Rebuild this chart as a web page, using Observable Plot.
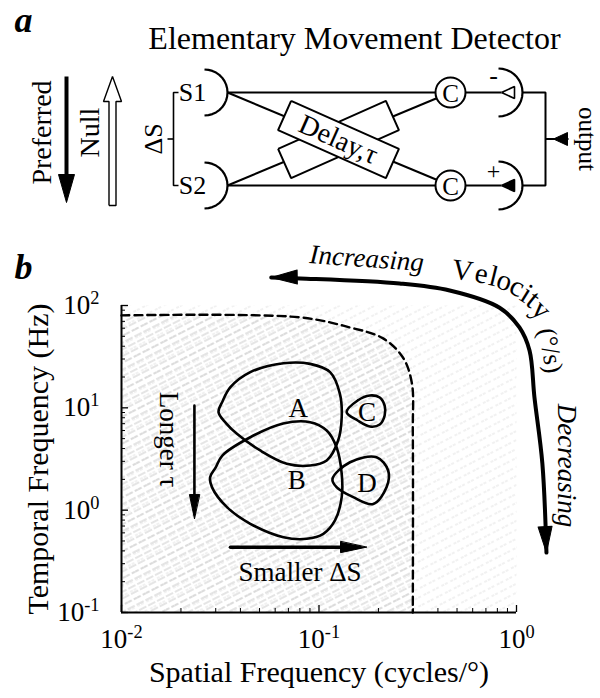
<!DOCTYPE html>
<html><head><meta charset="utf-8">
<script src="https://cdn.jsdelivr.net/npm/d3@7"></script>
<script src="https://cdn.jsdelivr.net/npm/@observablehq/plot@0.6"></script>
<style>
body{margin:0;background:#fff;}
#fig{width:600px;height:698px;overflow:hidden;}
#fig svg{display:block;overflow:visible;}
</style></head><body><div id="fig"></div>
<script>
// ================= DATA =================
// ---- panel a: schematic (schematic units) ----
const panelLabels = ["a", "b"];
const titleA = "Elementary Movement Detector";
const sensorLabels = ["S1", "S2"];
const rowsY = [92, 185];
const sensorX = 204, sensorR = 23;
const corrLabels = ["C", "C"];
const corrX = 450, corrR = 15;
const corrSigns = ["-", "+"];
const synX = 498, synR = 24;
const outputX = 545;
const delayLabel = "Delay,\u03C4";
const delayCenter = [338, 139];
const delaySize = [118, 32];
const delayAngles = [-24, 24];          // back box, front box
const dirLabels = ["Preferred", "Null"];
const dirX = [66, 112];
const dirY = [76, 202];
const outputLabel = "output";
const spacingLabel = "\u0394S";

// ---- panel b: spatio-temporal frequency plane ----
const xTicks = [0.01, 0.1, 1];
const yTicks = [0.1, 1, 10, 100];
const xLabel = "Spatial Frequency (cycles/\u00B0)";
const yLabel = "Temporal Frequency (Hz)";
// dashed limit of the detectable region [cycles/deg, Hz]
const limitCurve = [[0.01,80],[0.08,76.6],[0.1436,61],[0.21,48],[0.265,31.4],[0.295,17.6],[0.2985,5.8],[0.2985,0.1]];
// response loops
const loopA = [[0.0310,9.06],[0.0325,11.6],[0.0356,15.9],[0.0449,22.3],[0.0661,27.3],[0.0902,26.9],[0.1138,22.3],[0.1276,13.7],[0.1303,8.10],[0.125,4.80],[0.1094,3.06],[0.0902,2.73],[0.0687,2.84],[0.0504,3.83],[0.0384,5.57],[0.0338,7.1]];
const loopB = [[0.0281,2.10],[0.0300,2.62],[0.0324,3.42],[0.0449,5.16],[0.0658,7.03],[0.0902,7.24],[0.1094,6.00],[0.1227,4.12],[0.1303,2.27],[0.1303,1.34],[0.1205,0.793],[0.1052,0.587],[0.0867,0.525],[0.0661,0.544],[0.0449,0.736],[0.0342,1.07],[0.0287,1.68]];
const loopC = [[0.138,9.06],[0.157,11.8],[0.181,13.2],[0.203,12.6],[0.215,10.5],[0.215,8.41],[0.203,6.87],[0.181,6.57],[0.157,7.52]];
const loopD = [[0.117,2.02],[0.1436,2.94],[0.1954,3.29],[0.224,2.44],[0.220,1.68],[0.188,1.15],[0.149,1.34],[0.1227,1.68]];
const loopLabels = ["A", "B", "C", "D"];
const loopLabelX = [0.0785, 0.0772, 0.175, 0.175];
const loopLabelY = [9.79, 1.95, 9.06, 1.81];
// velocity arrow
const velocityPath = [[0.0573,188],[0.0802,184],[0.256,164],[0.459,140],[0.821,95],[1.035,61.0],[1.164,36.3],[1.233,12.6],[1.352,2.86],[1.418,0.385]];
const velocityWord = ["V","e","l","o","c","i","t","y"];
const velocityWordX = [0.533,0.665,0.766,0.869,1.01,1.124,1.219,1.337];
const velocityWordY = [220,205,192,175,153,131,115,91.4];
const velocityWordRot = [8,11,14,18,25,32,38,45];
const velAnnot = [{t:"Increasing", x:0.1746, y:288, r:4}, {t:"Decreasing", x:1.79, y:2.73, r:90}];
const unitAnnot = {t:"(\u00B0/s)", x:1.486, y:36.3, r:80};
// tau / spacing arrows
const longerArrow = [[0.0234,10.5],[0.0234,0.95]];
const longerTip = [0.0234, 0.828];
const longerText = {t:"Longer \u03C4", x:0.0173, y:4.91};
const smallerArrow = [[0.0356,0.435],[0.16,0.435]];
const smallerTip = [0.174, 0.435];
const smallerText = {t:"Smaller \u0394S", x:0.0802, y:0.248};
// axis titles anchored at the geometric middle of each log axis
const yTitle = {t: yLabel, x: 0.01, y: 3.1623};
const xTitle = {t: xLabel, x: 0.1, y: 0.1};

// ================= HELPERS =================
const SERIF = "'Liberation Serif','Times New Roman',serif";
const rad = Math.PI / 180;
const cup = (cx, cy, r) => d3.range(-90, 91, 10).map(a => [cx + r * Math.cos(a * rad), cy + r * Math.sin(a * rad)]);
function rotRect([cx, cy], [len, th], ang) {
  const a = ang * rad, ux = Math.cos(a), uy = Math.sin(a), vx = -uy, vy = ux, h = len / 2, t = th / 2;
  const p = [[-h,-t],[h,-t],[h,t],[-h,t],[-h,-t]];
  return p.map(([s, q]) => [cx + s * ux + q * vx, cy + s * uy + q * vy]);
}
const XY = {x: d => d[0], y: d => d[1]};

// ================= PANEL A =================
const [y0, y1] = rowsY, ym = (y0 + y1) / 2;
const sEdge = sensorX + sensorR;
const shapes = [];
rowsY.forEach(y => shapes.push({pts: cup(sensorX, y, sensorR), sw: 2.2}));
rowsY.forEach(y => shapes.push({pts: cup(synX, y, synR), sw: 2.2}));
rowsY.forEach(y => shapes.push({pts: [[sEdge, y], [corrX - corrR, y]], sw: 2}));
function toward(cx, cy, px, py) { const dx = px - cx, dy = py - cy, L = Math.hypot(dx, dy); return [cx + corrR * dx / L, cy + corrR * dy / L]; }
shapes.push({pts: [[sEdge, y0], toward(corrX, y1, sEdge, y0)], sw: 2});
shapes.push({pts: [[sEdge, y1], toward(corrX, y0, sEdge, y1)], sw: 2});
rowsY.forEach(y => shapes.push({pts: [[corrX + corrR, y], [synX + 3, y]], sw: 2}));
// synapse arrowheads (open upper, filled lower)
rowsY.forEach((y, i) => shapes.push({pts: [[synX + 3, y], [synX + 16, y - 6], [synX + 16, y + 6], [synX + 3, y]], sw: 1.6, fill: i ? "black" : "white"}));
// output bracket
shapes.push({pts: [[synX + synR, y0], [outputX, y0], [outputX, y1], [synX + synR, y1]], sw: 2});
shapes.push({pts: [[outputX, ym], [outputX + 23, ym]], sw: 2});
shapes.push({pts: [[outputX + 8, ym], [outputX + 22, ym - 6.5], [outputX + 22, ym + 6.5], [outputX + 8, ym]], sw: 1, fill: "black"});
// delta-S bracket
shapes.push({pts: [[sensorX - 26, y0], [sensorX - 31, y0], [sensorX - 31, y1], [sensorX - 26, y1]], sw: 1.6});
shapes.push({pts: [[sensorX - 31, ym], [sensorX - 37, ym]], sw: 1.6});
// preferred (filled) arrow
shapes.push({pts: [[dirX[0], dirY[0]], [dirX[0], dirY[1] - 22]], sw: 4});
shapes.push({pts: [[dirX[0] - 8, dirY[1] - 28], [dirX[0] + 8, dirY[1] - 28], [dirX[0], dirY[1]], [dirX[0] - 8, dirY[1] - 28]], sw: 1, fill: "black"});
// null (open) arrow
{
  const x = dirX[1], top = dirY[0], bot = dirY[1] + 3;
  shapes.push({pts: [[x - 3.5, bot], [x + 3.5, bot], [x + 3.5, top + 25], [x + 9, top + 25], [x, top], [x - 9, top + 25], [x - 3.5, top + 25], [x - 3.5, bot]], sw: 1.4, fill: "white"});
}
// delay boxes
delayAngles.forEach(a => shapes.push({pts: rotRect(delayCenter, delaySize, a), sw: 2, fill: "white"}));

const textsA = [
  {t: panelLabels[0], x: 23, y: 20, size: 36, style: "italic", weight: "bold"},
  {t: titleA, x: 354, y: 38, size: 32},
  {t: dirLabels[0], x: 42, y: 132, size: 28, r: -90},
  {t: dirLabels[1], x: 90, y: 132, size: 28, r: -90},
  {t: spacingLabel, x: 153, y: ym, size: 26, r: -90},
  {t: sensorLabels[0], x: 192, y: y0, size: 26},
  {t: sensorLabels[1], x: 192, y: y1, size: 26},
  {t: corrLabels[0], x: corrX, y: y0 + 1, size: 25},
  {t: corrLabels[1], x: corrX, y: y1 + 1, size: 25},
  {t: corrSigns[0], x: synX - 5, y: y0 - 17, size: 26},
  {t: corrSigns[1], x: synX - 5, y: y1 - 14, size: 24},
  {t: delayLabel, x: delayCenter[0], y: delayCenter[1], size: 28, r: delayAngles[1]},
  {t: outputLabel, x: 586, y: ym, size: 25, r: 90}
];

const panelA = Plot.plot({
  width: 600, height: 240, margin: 0,
  x: {domain: [0, 600], range: [0, 600], axis: null},
  y: {domain: [0, 240], range: [0, 240], axis: null},
  style: {fontFamily: SERIF, background: "white", color: "black", overflow: "visible"},
  marks: [
    ...shapes.map(s => Plot.line(s.pts, {...XY, stroke: "black", strokeWidth: s.sw, fill: s.fill ?? "none", strokeLinejoin: "miter", strokeLinecap: "butt"})),
    Plot.dot([[corrX, y0], [corrX, y1]], {...XY, r: corrR, fill: "white", stroke: "black", strokeWidth: 2}),
    ...textsA.map(d => Plot.text([d], {x: "x", y: "y", text: "t", fontSize: d.size, rotate: d.r ?? 0, fontStyle: d.style ?? "normal", fontWeight: d.weight ?? "normal", textAnchor: "middle", lineAnchor: "middle", fill: "black"}))
  ]
});

// ================= PANEL B =================
const xMinor = d3.range(-2, 0).flatMap(e => d3.range(2, 10).map(m => +(m * 10 ** e).toPrecision(3)));
const yMinor = d3.range(-1, 2).flatMap(e => d3.range(2, 10).map(m => +(m * 10 ** e).toPrecision(3)));
const expFmt = d => "10^" + Math.round(Math.log10(d));
const head = (w) => ({draw(ctx, l) { ctx.moveTo(0, -l); ctx.lineTo(w, 0); ctx.lineTo(-w, 0); ctx.closePath(); }});
const loopLine = (data) => Plot.line(data, {...XY, curve: "catmull-rom-closed", stroke: "black", strokeWidth: 2.6});
const T = {textAnchor: "middle", lineAnchor: "middle", fill: "black"};

const panelB = Plot.plot({
  width: 600, height: 458,
  marginLeft: 121, marginRight: 84, marginTop: 65, marginBottom: 86,
  x: {type: "log", domain: [0.01, 1], axis: null},
  y: {type: "log", domain: [0.1, 100], axis: null},
  style: {fontFamily: SERIF, background: "white", color: "black", overflow: "visible"},
  marks: [
    Plot.frame({fill: "url(#hatchLight)", stroke: "none"}),
    Plot.areaY(limitCurve, {x: d => d[0], y1: 0.1, y2: d => d[1], curve: "catmull-rom", fill: "url(#hatchDense)"}),
    Plot.line(limitCurve, {...XY, curve: "catmull-rom", stroke: "black", strokeWidth: 2.4, strokeDasharray: "8 5"}),
    loopLine(loopA), loopLine(loopB), loopLine(loopC), loopLine(loopD),
    Plot.text(loopLabels, {x: (d, i) => loopLabelX[i], y: (d, i) => loopLabelY[i], text: d => d, fontSize: 27, ...T}),
    // tau arrow
    Plot.line(longerArrow, {...XY, strokeWidth: 2.6}),
    Plot.vector([longerTip], {...XY, anchor: "end", length: 24, rotate: 180, shape: head(5), fill: "black", stroke: "black", strokeWidth: 1}),
    Plot.text([longerText], {x: "x", y: "y", text: "t", rotate: 90, fontSize: 27, ...T}),
    // delta S arrow
    Plot.line(smallerArrow, {...XY, strokeWidth: 3.5}),
    Plot.vector([smallerTip], {...XY, anchor: "end", length: 26, rotate: 90, shape: head(5.5), fill: "black", stroke: "black", strokeWidth: 1}),
    Plot.text([smallerText], {x: "x", y: "y", text: "t", fontSize: 27, ...T}),
    // velocity arrow
    Plot.line(velocityPath, {...XY, curve: "catmull-rom", strokeWidth: 4}),
    Plot.vector([velocityPath[0]], {...XY, anchor: "end", length: 26, rotate: -91, shape: head(7), fill: "black", stroke: "black", strokeWidth: 1}),
    Plot.vector([velocityPath[velocityPath.length - 1]], {...XY, anchor: "end", length: 26, rotate: 177, shape: head(7), fill: "black", stroke: "black", strokeWidth: 1}),
    Plot.text(velocityWord, {x: (d, i) => velocityWordX[i], y: (d, i) => velocityWordY[i], rotate: (d, i) => velocityWordRot[i], text: d => d, fontSize: 29, ...T}),
    Plot.text(velAnnot, {x: "x", y: "y", text: "t", rotate: "r", fontSize: 27, fontStyle: "italic", ...T}),
    Plot.text([unitAnnot], {x: "x", y: "y", text: "t", rotate: "r", fontSize: 26, ...T}),
    // axes
    Plot.ruleX([0.01], {strokeWidth: 2}),
    Plot.ruleY([0.1], {strokeWidth: 2}),
    Plot.axisX(xMinor, {tickSize: -4, tickFormat: () => "", strokeWidth: 1, label: null}),
    Plot.axisY(yMinor, {tickSize: -4, tickFormat: () => "", strokeWidth: 1, label: null}),
    Plot.axisX(xTicks, {tickSize: -7, tickFormat: () => "", strokeWidth: 1.3, label: null}),
    Plot.axisY(yTicks, {tickSize: -7, tickFormat: () => "", strokeWidth: 1.3, label: null}),
    Plot.axisX(xTicks, {tickSize: 0, tickPadding: 16, tickFormat: expFmt, fontSize: 27, label: null}),
    Plot.axisY(yTicks, {tickSize: 0, tickPadding: 22, tickFormat: expFmt, fontSize: 27, label: null}),
    Plot.text([yTitle], {x: "x", y: "y", text: "t", dx: -83, rotate: -90, fontSize: 30, ...T}),
    Plot.text([xTitle], {x: "x", y: "y", text: "t", dy: 60, fontSize: 30, ...T}),
    Plot.text([panelLabels[1]], {frameAnchor: "top-left", dx: -98, dy: -38, fontSize: 36, fontStyle: "italic", fontWeight: "bold", ...T})
  ]
});

// hatch patterns (iso-velocity texture)
d3.select(panelB).insert("defs", ":first-child").html(`
  <pattern id="hatchDense" patternUnits="userSpaceOnUse" width="10" height="6" patternTransform="rotate(-27)">
    <line x1="0" y1="3" x2="10" y2="3" stroke="#a6a6a6" stroke-width="0.6" stroke-dasharray="4 2"/>
  </pattern>
  <pattern id="hatchLight" patternUnits="userSpaceOnUse" width="10" height="8" patternTransform="rotate(-27)">
    <line x1="0" y1="4" x2="10" y2="4" stroke="#d0d0d0" stroke-width="0.6" stroke-dasharray="3 3"/>
  </pattern>`);

// superscript exponents on tick labels
d3.select(panelB).selectAll("text").each(function () {
  const t = this.textContent;
  if (/^10\^/.test(t)) {
    const [b, e] = t.split("^");
    const s = d3.select(this);
    s.text(b);
    s.append("tspan").attr("dy", "-0.55em").attr("font-size", "0.68em").text(e);
  }
});

const fig = document.getElementById("fig");
fig.appendChild(panelA);
fig.appendChild(panelB);
</script></body></html>
